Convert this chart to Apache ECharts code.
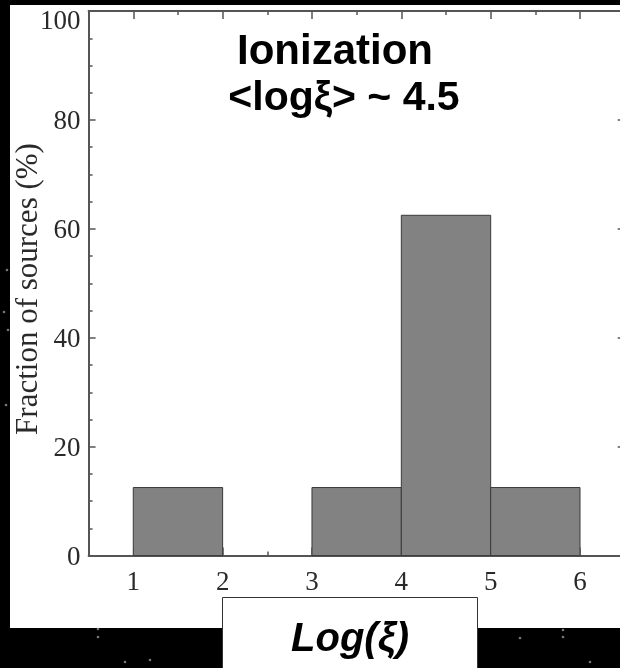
<!DOCTYPE html>
<html>
<head>
<meta charset="utf-8">
<script src="https://cdn.jsdelivr.net/npm/echarts@6/dist/echarts.min.js"></script>
<style>
  html, body { margin: 0; padding: 0; background: #000; }
  #chart { width: 620px; height: 668px; }
</style>
</head>
<body>
<div id="chart"></div>
<script>
// Histogram of log(xi) ionization parameter across the source sample
const binStarts = [1, 2, 3, 4, 5];
const binWidth = 1;
const fractions = [12.5, 0, 12.5, 62.5, 12.5];   // percent of sources per bin
const xTicks = [1, 2, 3, 4, 5, 6];
const yTicks = [0, 20, 40, 60, 80, 100];
const titleLines = ['Ionization', '<logξ> ~ 4.5'];
const xName = 'Log(ξ)';
const yName = 'Fraction of sources (%)';

const AX = '#555';
const TXT = '#2a2a2a';
const SERIF = '"Liberation Serif", "Times New Roman", serif';
const SANS = '"Liberation Sans", Arial, sans-serif';

const xMin = xTicks[0] - binWidth / 2;
const xMax = xTicks[xTicks.length - 1] + binWidth / 2;
const yMax = yTicks[yTicks.length - 1];
const minorX = [];
for (let v = xMin; v <= xMax + 1e-9; v += binWidth / 2) minorX.push(v);

const chart = echarts.init(document.getElementById('chart'));

function xAxisCfg(position, major, withLabels) {
  return {
    type: 'value', position: position, min: xMin, max: xMax,
    axisLine: { show: major, onZero: false, lineStyle: { color: AX, width: 2 } },
    axisTick: { show: true, inside: true, length: major ? 8 : 4,
      customValues: major ? xTicks : minorX,
      lineStyle: { color: AX, width: 1.5 } },
    axisLabel: { show: withLabels, customValues: xTicks, margin: 14,
      fontFamily: SERIF, fontSize: 27, color: TXT },
    splitLine: { show: false }
  };
}

function yAxisCfg(position, withLabels) {
  return {
    type: 'value', position: position, min: yTicks[0], max: yMax,
    interval: yTicks[1] - yTicks[0],
    axisLine: { show: true, onZero: false, lineStyle: { color: AX, width: 2 } },
    axisTick: { show: true, inside: true, length: 7, lineStyle: { color: AX, width: 1.5 } },
    minorTick: { show: true, splitNumber: 4, length: 4, lineStyle: { color: AX, width: 1.5 } },
    axisLabel: {
      show: withLabels, margin: 8, fontFamily: SERIF, fontSize: 27, color: TXT,
      padding: [4, 0, 0, 0],
      // the top label sits a little lower so it stays inside the frame
      formatter: v => (v === yMax ? '{edge|' + v + '}' : String(v)),
      rich: { edge: { fontFamily: SERIF, fontSize: 27, color: TXT, padding: [18, 0, 0, 0] } }
    },
    splitLine: { show: false },
    minorSplitLine: { show: false }
  };
}

// a few faint stars on the dark backdrop
const stars = [[98, 629], [98, 637], [125, 662], [150, 660], [520, 638], [563, 630],
               [563, 637], [590, 662], [4, 312], [8, 330], [6, 405], [7, 270]];

chart.setOption({
  backgroundColor: '#000',
  animation: false,
  grid: { left: 88.6, top: 11.1, width: 536.1, height: 544.5,
    containLabel: false, outerBoundsMode: 'none' },
  xAxis: [
    xAxisCfg('bottom', true, true),
    xAxisCfg('bottom', false, false),
    xAxisCfg('top', true, false),
    xAxisCfg('top', false, false)
  ],
  yAxis: [yAxisCfg('left', true), yAxisCfg('right', false)],
  series: [{
    type: 'custom',
    xAxisIndex: 0, yAxisIndex: 0,
    encode: { x: 0, y: 1 },
    data: binStarts.map((b, i) => [b, fractions[i]]),
    renderItem: function (params, api) {
      const x0 = api.value(0), v = api.value(1);
      if (!v) return null;
      const p0 = api.coord([x0, v]);
      const p1 = api.coord([x0 + binWidth, 0]);
      return {
        type: 'rect',
        shape: { x: p0[0], y: p0[1], width: p1[0] - p0[0], height: p1[1] - p0[1] },
        style: { fill: '#828282', stroke: '#3a3a3a', lineWidth: 1 }
      };
    },
    z: 3
  }],
  graphic: [
    { type: 'rect', z: -100, shape: { x: 10, y: 5, width: 615, height: 623 },
      style: { fill: '#fff' } },
    ...stars.map(s => ({ type: 'circle', z: -90, shape: { cx: s[0], cy: s[1], r: 1.3 },
      style: { fill: '#777' } })),
    { type: 'text', z: 100, x: 29, y: 289, rotation: Math.PI / 2,
      style: { text: yName, fill: TXT, font: '31px ' + SERIF,
        textAlign: 'center', textVerticalAlign: 'middle' } },
    { type: 'text', z: 100, x: 335, y: 73,
      style: { text: titleLines[0], fill: '#000', font: 'bold 42px ' + SANS,
        textAlign: 'center', textVerticalAlign: 'bottom' } },
    { type: 'text', z: 100, x: 344, y: 119,
      style: { text: titleLines[1], fill: '#000', font: 'bold 41px ' + SANS,
        textAlign: 'center', textVerticalAlign: 'bottom' } },
    { type: 'rect', z: 100, shape: { x: 222.5, y: 597.5, width: 255, height: 90 },
      style: { fill: '#fff', stroke: '#333', lineWidth: 1 } },
    { type: 'text', z: 101, x: 350, y: 640,
      style: { text: xName, fill: '#000', font: 'italic bold 40px ' + SANS,
        textAlign: 'center', textVerticalAlign: 'middle' } }
  ]
});
</script>
</body>
</html>
